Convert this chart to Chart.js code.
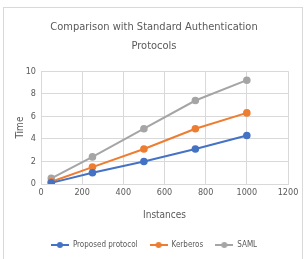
<!DOCTYPE html>
<html>
<head>
<meta charset="utf-8">
<script src="https://cdn.jsdelivr.net/npm/chart.js@4/dist/chart.umd.min.js"></script>
<style>
    html, body { margin: 0; padding: 0; background: #fff; }
    .frame {
        position: absolute; left: 3px; top: 7px; width: 300px; height: 260px;
        border: 1px solid #d9d9d9; box-sizing: border-box;
    }
    #wrap { position: absolute; left: 0; top: 0; width: 306px; height: 259px; }
</style>
</head>
<body>
<div class="frame"></div>
<div id="wrap"><canvas id="chart" width="306" height="259"></canvas></div>
<script>
const instances = [50, 250, 500, 750, 1000];
const proposedTimes = [0.1, 1.0, 2.0, 3.1, 4.3];
const kerberosTimes = [0.2, 1.5, 3.1, 4.9, 6.3];
const samlTimes = [0.5, 2.4, 4.9, 7.4, 9.2];
const seriesNames = ['Proposed protocol', 'Kerberos', 'SAML'];
const seriesColors = ['#4472C4', '#ED7D31', '#A5A5A5'];
const titleLines = ['Comparison with Standard Authentication', 'Protocols'];

const font = "'DejaVu Sans Condensed', 'Liberation Sans Narrow', 'Liberation Sans', sans-serif";
const textColor = '#595959';

const toPoints = (values) => values.map((v, i) => ({ x: instances[i], y: v }));

// legend icon: short line with a dot, like the spreadsheet legend
function legendIcon(color) {
    const c = document.createElement('canvas');
    c.width = 18;
    c.height = 8;
    const g = c.getContext('2d');
    g.strokeStyle = color;
    g.lineWidth = 2;
    g.beginPath();
    g.moveTo(0, 4);
    g.lineTo(18, 4);
    g.stroke();
    g.fillStyle = color;
    g.beginPath();
    g.arc(9, 4, 3, 0, Math.PI * 2);
    g.fill();
    return c;
}
const icons = seriesColors.map(legendIcon);

const datasets = [proposedTimes, kerberosTimes, samlTimes].map((values, i) => ({
    label: seriesNames[i],
    data: toPoints(values),
    borderColor: seriesColors[i],
    backgroundColor: seriesColors[i],
    borderWidth: 2,
    pointRadius: 2.8,
    pointStyle: 'circle',
    tension: 0
}));

new Chart(document.getElementById('chart'), {
    type: 'line',
    data: { datasets },
    options: {
        responsive: false,
        animation: false,
        layout: { padding: { left: 20, right: 18, top: 0, bottom: 0 } },
        plugins: {
            title: {
                display: true,
                text: titleLines,
                color: textColor,
                font: { family: font, size: 11, weight: 'normal', lineHeight: 1.78 },
                padding: { top: 17, bottom: 15 }
            },
            legend: {
                position: 'bottom',
                labels: {
                    usePointStyle: true,
                    pointStyleWidth: 18,
                    boxHeight: 8,
                    color: textColor,
                    font: { family: font, size: 8 },
                    padding: 12,
                    generateLabels: (chart) => {
                        const items = Chart.defaults.plugins.legend.labels.generateLabels(chart);
                        items.forEach((item, i) => { item.pointStyle = icons[i]; });
                        return items;
                    }
                }
            },
            tooltip: { enabled: false }
        },
        scales: {
            x: {
                type: 'linear',
                min: 0,
                max: 1200,
                afterFit: (scale) => { scale.height = 45; },
                ticks: {
                    stepSize: 200,
                    color: textColor,
                    font: { family: font, size: 9 },
                    maxRotation: 0,
                    callback: (v) => String(v)
                },
                grid: { color: '#d9d9d9', drawTicks: false },
                border: { color: '#d9d9d9' },
                title: { display: true, text: 'Instances', color: textColor, font: { family: font, size: 10 }, padding: { top: 4, bottom: 8 } }
            },
            y: {
                min: 0,
                max: 10,
                afterFit: (scale) => { scale.width = 21; },
                ticks: { stepSize: 2, color: textColor, font: { family: font, size: 9 }, padding: 5 },
                grid: { color: '#d9d9d9', drawTicks: false },
                border: { color: '#d9d9d9' },
                title: { display: true, text: 'Time', color: textColor, font: { family: font, size: 10 }, padding: { top: -6, bottom: 0 } }
            }
        }
    }
});
</script>
</body>
</html>
